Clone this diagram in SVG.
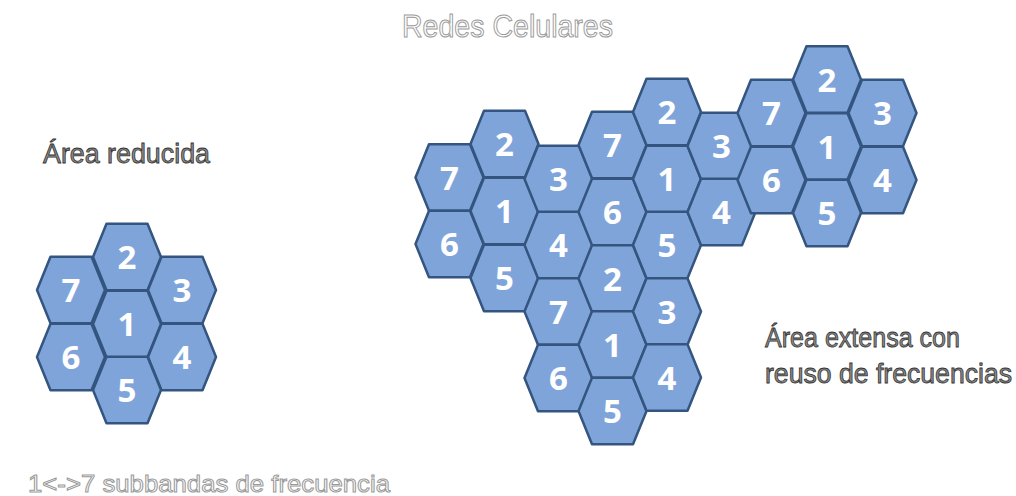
<svg xmlns="http://www.w3.org/2000/svg" xmlns:xlink="http://www.w3.org/1999/xlink" width="1016" height="496" viewBox="0 0 1016 496">
<style>
.hx{fill:#7fa4da;stroke:#34557f;stroke-width:2.5;stroke-linejoin:round}
.num{font-family:"Open Sans","Liberation Sans",sans-serif;font-weight:bold;font-size:33px;fill:#ffffff;text-anchor:middle}
.lbl{font-family:"Liberation Sans",Arial,sans-serif;font-size:27px;fill:#8a8a8a;stroke:#333333;stroke-width:0.8}
.ghost{font-family:"Liberation Sans",Arial,sans-serif;fill:#ffffff;stroke:#9a9a9a;stroke-width:1}
</style>
<defs>
<polygon id="hex" class="hx" points="-34,0 -20.5,-33.3 20.5,-33.3 34,0 20.5,33.3 -20.5,33.3"/>
</defs>
<rect width="1016" height="496" fill="#ffffff"/>
<text class="ghost" x="402" y="37" font-size="31" textLength="211" lengthAdjust="spacingAndGlyphs">Redes Celulares</text>
<text class="lbl" x="43" y="163" textLength="167" lengthAdjust="spacingAndGlyphs">Área reducida</text>
<text class="lbl" x="765" y="347" textLength="195" lengthAdjust="spacingAndGlyphs">Área extensa con</text>
<text class="lbl" x="765" y="383" textLength="247" lengthAdjust="spacingAndGlyphs">reuso de frecuencias</text>
<text class="ghost" x="28" y="492" font-size="24" textLength="362" lengthAdjust="spacingAndGlyphs">1&lt;-&gt;7 subbandas de frecuencia</text>
<g id="connectors"></g>
<g id="left-cluster">
<g id="l2" transform="translate(127,257)"><use xlink:href="#hex"/><text class="num" y="12">2</text></g>
<g id="l7" transform="translate(71,290)"><use xlink:href="#hex"/><text class="num" y="12">7</text></g>
<g id="l3" transform="translate(182,290)"><use xlink:href="#hex"/><text class="num" y="12">3</text></g>
<g id="l1" transform="translate(127,324)"><use xlink:href="#hex"/><text class="num" y="12">1</text></g>
<g id="l6" transform="translate(71,357)"><use xlink:href="#hex"/><text class="num" y="12">6</text></g>
<g id="l4" transform="translate(182,357)"><use xlink:href="#hex"/><text class="num" y="12">4</text></g>
<g id="l5" transform="translate(127,390)"><use xlink:href="#hex"/><text class="num" y="12">5</text></g>
</g>
<g id="right-area">
<g id="a7" transform="translate(449.5,177.5)"><use xlink:href="#hex"/><text class="num" y="12">7</text></g>
<g id="a6" transform="translate(449.5,244)"><use xlink:href="#hex"/><text class="num" y="12">6</text></g>
<g id="a2" transform="translate(504.5,144)"><use xlink:href="#hex"/><text class="num" y="12">2</text></g>
<g id="a1" transform="translate(504.5,211)"><use xlink:href="#hex"/><text class="num" y="12">1</text></g>
<g id="a5" transform="translate(504.5,278)"><use xlink:href="#hex"/><text class="num" y="12">5</text></g>
<g id="a3" transform="translate(558.5,179)"><use xlink:href="#hex"/><text class="num" y="12">3</text></g>
<g id="a4" transform="translate(558.5,245)"><use xlink:href="#hex"/><text class="num" y="12">4</text></g>
<g id="c7" transform="translate(558.5,311.5)"><use xlink:href="#hex"/><text class="num" y="12">7</text></g>
<g id="c6" transform="translate(558.5,378)"><use xlink:href="#hex"/><text class="num" y="12">6</text></g>
<g id="b7" transform="translate(612.5,145)"><use xlink:href="#hex"/><text class="num" y="12">7</text></g>
<g id="b6" transform="translate(612.5,212)"><use xlink:href="#hex"/><text class="num" y="12">6</text></g>
<g id="c2" transform="translate(612.5,278.5)"><use xlink:href="#hex"/><text class="num" y="12">2</text></g>
<g id="c1" transform="translate(612.5,344.5)"><use xlink:href="#hex"/><text class="num" y="12">1</text></g>
<g id="c5" transform="translate(612.5,411)"><use xlink:href="#hex"/><text class="num" y="12">5</text></g>
<g id="b2" transform="translate(667,112)"><use xlink:href="#hex"/><text class="num" y="12">2</text></g>
<g id="b1" transform="translate(667,179)"><use xlink:href="#hex"/><text class="num" y="12">1</text></g>
<g id="b5" transform="translate(667,245)"><use xlink:href="#hex"/><text class="num" y="12">5</text></g>
<g id="c3" transform="translate(667,311.5)"><use xlink:href="#hex"/><text class="num" y="12">3</text></g>
<g id="c4" transform="translate(667,377.5)"><use xlink:href="#hex"/><text class="num" y="12">4</text></g>
<g id="b3" transform="translate(721.5,146)"><use xlink:href="#hex"/><text class="num" y="12">3</text></g>
<g id="b4" transform="translate(721.5,212)"><use xlink:href="#hex"/><text class="num" y="12">4</text></g>
<g id="d2" transform="translate(827,79.5)"><use xlink:href="#hex"/><text class="num" y="12">2</text></g>
<g id="d7" transform="translate(771.5,113)"><use xlink:href="#hex"/><text class="num" y="12">7</text></g>
<g id="d3" transform="translate(882.5,113)"><use xlink:href="#hex"/><text class="num" y="12">3</text></g>
<g id="d1" transform="translate(827,146.5)"><use xlink:href="#hex"/><text class="num" y="12">1</text></g>
<g id="d6" transform="translate(771.5,180)"><use xlink:href="#hex"/><text class="num" y="12">6</text></g>
<g id="d4" transform="translate(882.5,180)"><use xlink:href="#hex"/><text class="num" y="12">4</text></g>
<g id="d5" transform="translate(827,213)"><use xlink:href="#hex"/><text class="num" y="12">5</text></g>
</g>
</svg>
